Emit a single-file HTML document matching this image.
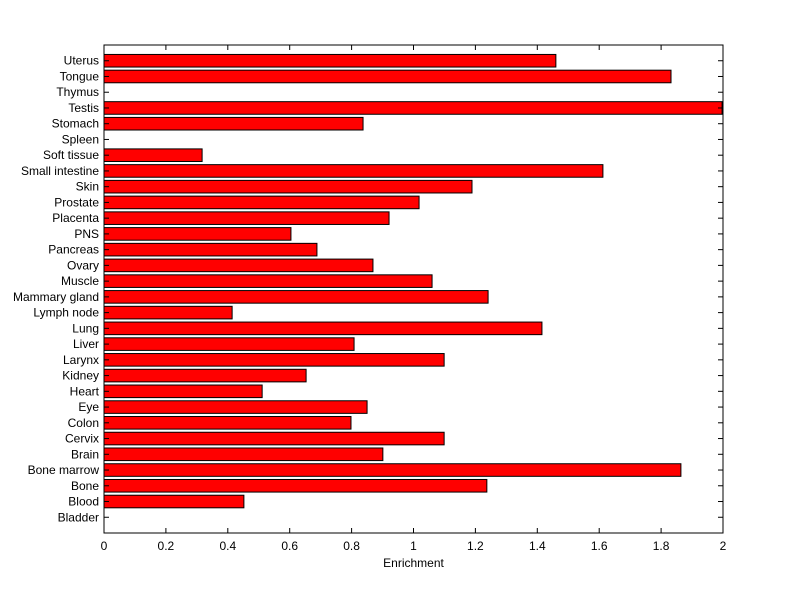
<!DOCTYPE html>
<html><head><meta charset="utf-8"><style>
body{margin:0;background:#fff;}
svg{display:block;font-family:"Liberation Sans",sans-serif;}
</style></head><body>
<svg id="chart" width="800" height="599"></svg>
<script>
const categories=["Uterus","Tongue","Thymus","Testis","Stomach","Spleen","Soft tissue","Small intestine","Skin","Prostate","Placenta","PNS","Pancreas","Ovary","Muscle","Mammary gland","Lymph node","Lung","Liver","Larynx","Kidney","Heart","Eye","Colon","Cervix","Brain","Bone marrow","Bone","Blood","Bladder"];
const values=[1.46,1.832,0,1.997,0.837,0,0.317,1.612,1.189,1.018,0.921,0.604,0.688,0.869,1.06,1.241,0.414,1.415,0.808,1.099,0.653,0.511,0.85,0.798,1.099,0.901,1.864,1.237,0.452,0];
const xTicks=[0,0.2,0.4,0.6,0.8,1,1.2,1.4,1.6,1.8,2];
const xTickLabels=["0","0.2","0.4","0.6","0.8","1","1.2","1.4","1.6","1.8","2"];

const svg=document.getElementById('chart');
const NS='http://www.w3.org/2000/svg';
const L=104,R=723,T=45,B=533,n=categories.length;
const xs=v=>L+(v-0)/(2-0)*(R-L);
const ys=i=>T+(i+1)*(B-T)/(n+1);
const bh=0.8*(B-T)/(n+1);
function mk(tag,attrs){const e=document.createElementNS(NS,tag);for(const k in attrs)e.setAttribute(k,attrs[k]);svg.appendChild(e);return e;}

const frame=mk('rect',{x:L,y:T,width:R-L,height:B-T,fill:'#fff',stroke:'#000','stroke-width':1});



values.forEach((v,i)=>{
  const w=xs(v)-xs(0);
  if(w>0){
    const r=mk('rect',{x:xs(0),y:ys(i)-bh/2,width:w,height:bh,fill:'#ff0000',stroke:'#000','stroke-width':1});
    
    
  }
  mk('line',{x1:L,x2:L+5,y1:ys(i),y2:ys(i),stroke:'#000'});
  mk('line',{x1:R,x2:R-5,y1:ys(i),y2:ys(i),stroke:'#000'});
  const t=mk('text',{x:L-5,y:ys(i)+4,'text-anchor':'end','font-size':12});
  t.textContent=categories[i];
  
  
});
xTicks.forEach((v,i)=>{
  mk('line',{x1:xs(v),x2:xs(v),y1:B,y2:B-5,stroke:'#000'});
  mk('line',{x1:xs(v),x2:xs(v),y1:T,y2:T+5,stroke:'#000'});
  const t=mk('text',{x:xs(v),y:B+17,'text-anchor':'middle','font-size':12});
  t.textContent=xTickLabels[i];
  
  
});
const xt=mk('text',{x:(L+R)/2,y:B+34,'text-anchor':'middle','font-size':12});
xt.textContent='Enrichment';


</script>
</body></html>
